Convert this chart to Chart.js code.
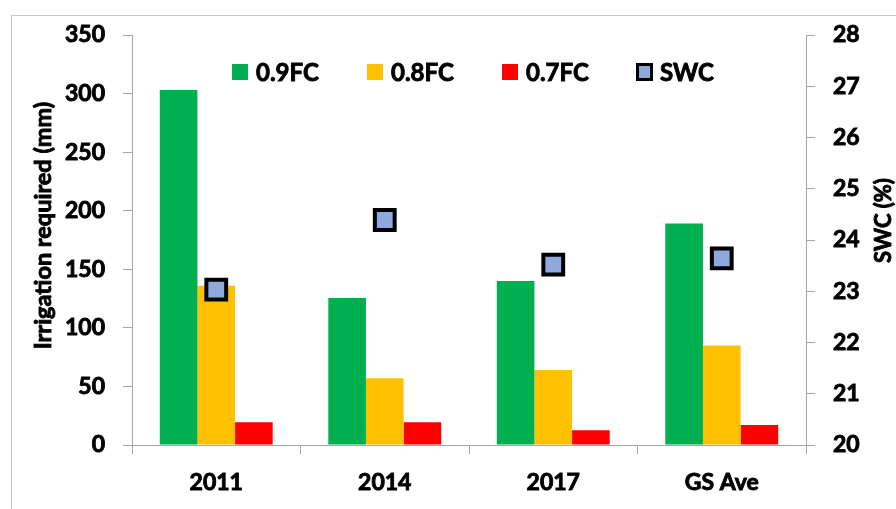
<!DOCTYPE html>
<html>
<head>
<meta charset="utf-8">
<script src="https://cdn.jsdelivr.net/npm/chart.js@4.4.1/dist/chart.umd.min.js"></script>
<style>
  html, body { margin: 0; padding: 0; background: #fff; }
  #wrap { position: relative; width: 896px; height: 509px; }
</style>
</head>
<body>
<div id="wrap"><canvas id="myChart" width="896" height="509"></canvas></div>
<script>
// data
var categories = ['2011', '2014', '2017', 'GS Ave'];
var fc09 = [303, 125.5, 140, 189];
var fc08 = [136, 57, 64, 85];
var fc07 = [19.5, 19.5, 12.5, 17];
var swc = [23.03, 24.39, 23.52, 23.64];
var leftTicks = [0, 50, 100, 150, 200, 250, 300, 350];
var rightTicks = [20, 21, 22, 23, 24, 25, 26, 27, 28];

var FONT = 'Lato, "Open Sans", sans-serif';
var axisGray = '#a6a6a6';
var HEAVY = 0.9; // extra stroke so the text looks as heavy as the original

function boldText(ctx, txt, x, y) {
  ctx.fillText(txt, x, y);
  ctx.strokeText(txt, x, y);
}

// legend + axis titles + outer frame, drawn on top
var extras = {
  id: 'extras',
  afterDraw: function(chart) {
    var ctx = chart.ctx;
    ctx.save();
    // frame
    ctx.strokeStyle = '#c4c4c4';
    ctx.lineWidth = 1;
    ctx.strokeRect(11.5, 15.5, 1000, 600);

    // legend inside the plot
    var xs = [232, 367, 502, 636];
    ctx.font = 'bold 24px ' + FONT;
    ctx.textBaseline = 'middle';
    ctx.textAlign = 'left';
    chart.data.datasets.forEach(function(ds, i) {
      var x = xs[i];
      if (ds.type === 'line') {
        ctx.fillStyle = ds.pointBackgroundColor;
        ctx.fillRect(x + 1.5, 64.5, 14, 15);
        ctx.strokeStyle = '#000';
        ctx.lineWidth = 3;
        ctx.strokeRect(x + 1.5, 64.5, 14, 15);
      } else {
        ctx.fillStyle = ds.backgroundColor;
        ctx.fillRect(x, 64, 16, 16);
      }
      ctx.fillStyle = '#000';
      ctx.strokeStyle = '#000';
      ctx.lineWidth = HEAVY;
      boldText(ctx, ds.label, x + 24, 73);
    });

    // axis titles (both read bottom to top)
    ctx.textBaseline = 'alphabetic';
    ctx.textAlign = 'center';
    ctx.lineWidth = HEAVY;
    ctx.font = 'bold 23.5px ' + FONT;
    ctx.translate(51, 225.5);
    ctx.rotate(-Math.PI / 2);
    boldText(ctx, 'Irrigation required (mm)', 0, 0);
    ctx.setTransform(1, 0, 0, 1, 0, 0);
    ctx.font = 'bold 22px ' + FONT;
    ctx.translate(891, 220.5);
    ctx.rotate(-Math.PI / 2);
    boldText(ctx, 'SWC (%)', 0, 0);
    ctx.restore();
  }
};

var tickOpts = function(pad) {
  return {
    color: '#000', padding: pad,
    font: { family: FONT, size: 23, weight: 'bold' },
    textStrokeColor: '#000', textStrokeWidth: HEAVY
  };
};

var ctx = document.getElementById('myChart').getContext('2d');
var myChart = new Chart(ctx, {
  type: 'bar',
  data: {
    labels: categories,
    datasets: [
      { label: '0.9FC', data: fc09, backgroundColor: '#00b050', yAxisID: 'y', order: 1 },
      { label: '0.8FC', data: fc08, backgroundColor: '#ffc000', yAxisID: 'y', order: 1 },
      { label: '0.7FC', data: fc07, backgroundColor: '#ff0000', yAxisID: 'y', order: 1 },
      {
        type: 'line', label: 'SWC', data: swc, yAxisID: 'y1', order: 0,
        showLine: false, pointStyle: 'rect', pointRadius: 14, pointHoverRadius: 14,
        pointBackgroundColor: '#8eaadc', pointBorderColor: '#000', pointBorderWidth: 4
      }
    ]
  },
  options: {
    responsive: false,
    animation: false,
    categoryPercentage: 0.67,
    barPercentage: 1.0,
    layout: { padding: { top: 35, left: 0, right: 0, bottom: 0 } },
    plugins: { legend: { display: false }, tooltip: { enabled: false } },
    scales: {
      x: {
        grid: { drawOnChartArea: false, color: axisGray, tickLength: 9 },
        border: { color: axisGray },
        ticks: tickOpts(15),
        afterFit: function(s) { s.height = 64; }
      },
      y: {
        position: 'left', min: 0, max: 350,
        afterBuildTicks: function(s) { s.ticks = leftTicks.map(function(v) { return { value: v }; }); },
        grid: { drawOnChartArea: false, color: axisGray, tickLength: 9 },
        border: { color: axisGray },
        ticks: tickOpts(18),
        afterFit: function(s) { s.width = 132; }
      },
      y1: {
        position: 'right', min: 20, max: 28,
        afterBuildTicks: function(s) { s.ticks = rightTicks.map(function(v) { return { value: v }; }); },
        grid: { drawOnChartArea: false, color: axisGray, tickLength: 9 },
        border: { color: axisGray },
        ticks: tickOpts(18),
        afterFit: function(s) { s.width = 90; }
      }
    }
  },
  plugins: [extras]
});
</script>
</body>
</html>
